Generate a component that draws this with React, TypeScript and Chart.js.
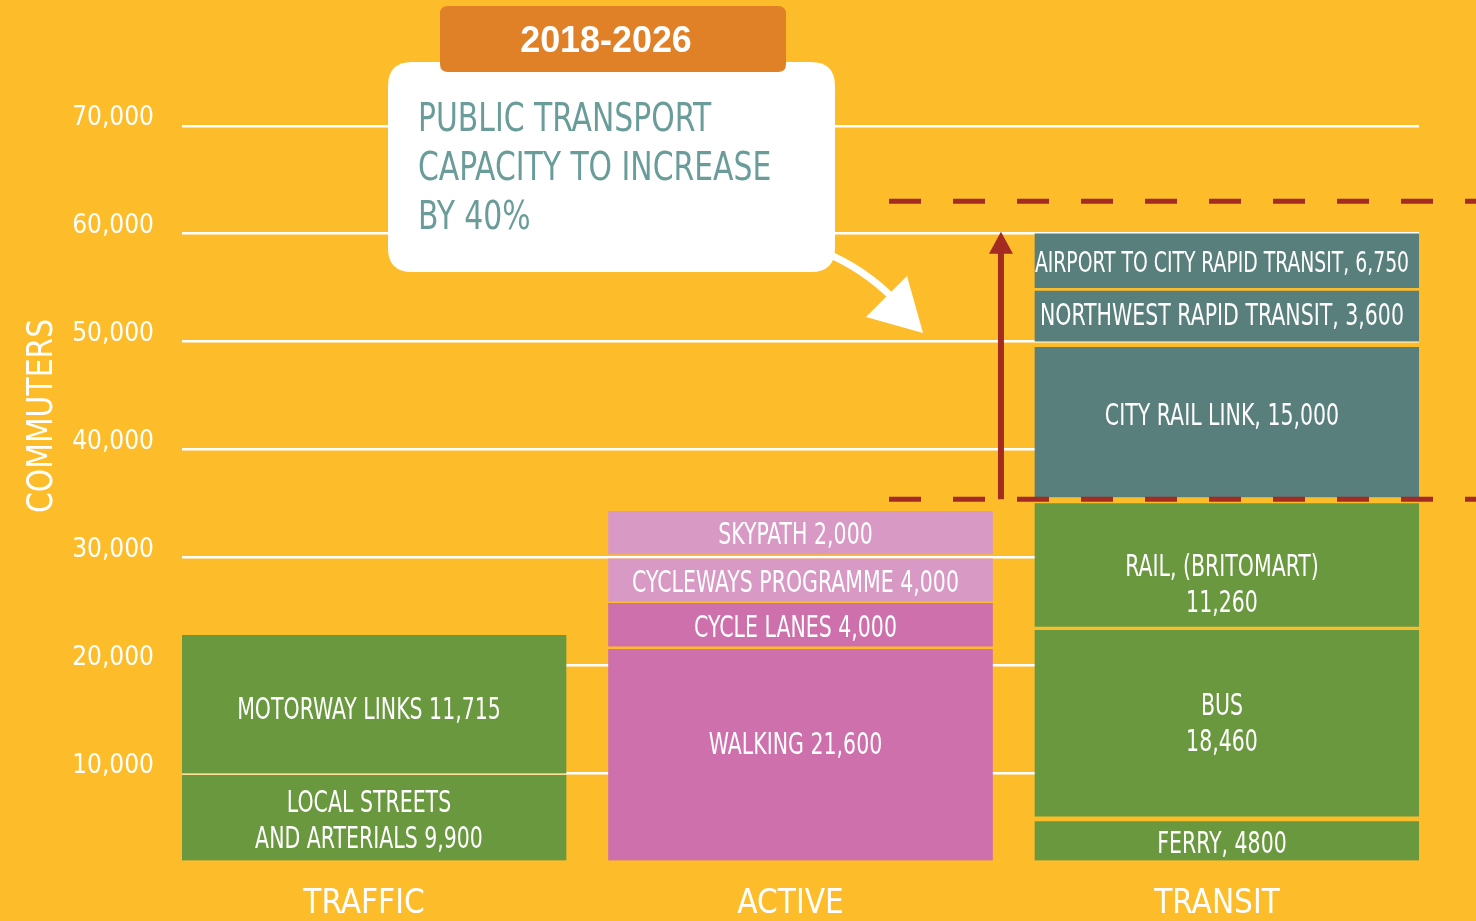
import React, { useEffect, useRef } from 'react';
import { Chart, registerables } from 'chart.js';

Chart.register(...registerables);

// ---------- data ----------
const categories = ['TRAFFIC', 'ACTIVE', 'TRANSIT'];
const yTickValues = [10000, 20000, 30000, 40000, 50000, 60000, 70000];
const AXIS_FLOOR = 1950;
const AXIS_TOP = 76000;

// Segments per category (bottom to top). Extents, in commuters.
const trafficLabels = [['LOCAL STREETS', 'AND ARTERIALS 9,900'], ['MOTORWAY LINKS 11,715']];
const trafficLow = [AXIS_FLOOR, 10050];
const trafficHigh = [9850, 22800];

const activeLabels = [['WALKING 21,600'], ['CYCLE LANES 4,000'], ['CYCLEWAYS PROGRAMME 4,000'], ['SKYPATH 2,000']];
const activeLow = [AXIS_FLOOR, 21800, 25980, 30350];
const activeHigh = [21500, 25770, 29900, 34300];

const transitLabels = [
  ['FERRY, 4800'],
  ['BUS', '18,460'],
  ['RAIL, (BRITOMART)', '11,260'],
  ['CITY RAIL LINK, 15,000'],
  ['NORTHWEST RAPID TRANSIT, 3,600'],
  ['AIRPORT TO CITY RAPID TRANSIT, 6,750'],
];
const transitLow = [AXIS_FLOOR, 6050, 23630, 35620, 50060, 55010];
const transitHigh = [5550, 23260, 35010, 49480, 54700, 59990];

// Capacity band today vs 2026
const capacityNow = 35400;
const capacityTarget = 63000;
const arrowTop = 60000;

const titleText = '2018-2026';
const calloutLines = ['PUBLIC TRANSPORT', 'CAPACITY TO INCREASE', 'BY 40%'];
const yAxisTitle = 'COMMUTERS';

// ---------- styles ----------
const BG = '#FDBD2B';
const GREEN = '#6A983F';
const PINK = '#CD70AB';
const LIGHT_PINK = '#D899C4';
const TEAL = '#597F7C';
const ORANGE = '#E08127';
const RED = '#A32B22';
const TEXT_TEAL = '#6A9C99';
const FONT = "'DejaVu Sans Condensed', 'Liberation Sans Narrow', 'Roboto Condensed', 'Liberation Sans', sans-serif";

const trafficColors = [GREEN, GREEN];
const activeColors = [PINK, PINK, LIGHT_PINK, LIGHT_PINK];
const transitColors = [GREEN, GREEN, GREEN, TEAL, TEAL, TEAL];

const labelNudge: Record<string, number> = {
  'WALKING 21,600': -13,
  'RAIL, (BRITOMART) 11,260': 17,
  'CITY RAIL LINK, 15,000': -9,
  'NORTHWEST RAPID TRANSIT, 3,600': -3,
  'BUS 18,460': -2,
  'MOTORWAY LINKS 11,715': 3,
};
const labelSize: Record<string, number> = { 'AIRPORT TO CITY RAPID TRANSIT, 6,750': 27.5 };

function drawText(ctx: CanvasRenderingContext2D, text: string, x: number, y: number, size: number, color: string, align: CanvasTextAlign, sx: number, weight = 'normal', family = FONT) {
  ctx.save();
  ctx.translate(x, y);
  ctx.scale(sx, 1);
  ctx.font = `${weight} ${size}px ${family}`;
  ctx.fillStyle = color;
  ctx.textAlign = align;
  ctx.textBaseline = 'middle';
  ctx.fillText(text, 0, 0);
  ctx.restore();
}

function roundRect(ctx: CanvasRenderingContext2D, x: number, y: number, w: number, h: number, r: number) {
  ctx.beginPath();
  ctx.moveTo(x + r, y);
  ctx.lineTo(x + w - r, y);
  ctx.quadraticCurveTo(x + w, y, x + w, y + r);
  ctx.lineTo(x + w, y + h - r);
  ctx.quadraticCurveTo(x + w, y + h, x + w - r, y + h);
  ctx.lineTo(x + r, y + h);
  ctx.quadraticCurveTo(x, y + h, x, y + h - r);
  ctx.lineTo(x, y + r);
  ctx.quadraticCurveTo(x, y, x + r, y);
  ctx.closePath();
}

const bgPlugin = {
  id: 'bg',
  beforeDraw(chart: any) {
    const ctx = chart.ctx;
    ctx.save();
    ctx.fillStyle = BG;
    ctx.fillRect(0, 0, chart.width, chart.height);
    ctx.restore();
  },
};

const segLabelPlugin = {
  id: 'segLabels',
  afterDatasetsDraw(chart: any) {
    const ctx = chart.ctx;
    chart.data.datasets.forEach((ds: any, i: number) => {
      const meta = chart.getDatasetMeta(i);
      const el = meta.data[0];
      if (!el) return;
      const { x, y, base } = el.getProps(['x', 'y', 'base'], true);
      const lines: string[] = ds.segLines;
      const key = lines.join(' ');
      const size = labelSize[key] || 30;
      const lh = 36;
      const cy = (y + base) / 2 + 4 + (labelNudge[key] || 0);
      lines.forEach((ln, k) => {
        drawText(ctx, ln, x - 5, cy + (k - (lines.length - 1) / 2) * lh, size, '#FFFFFF', 'center', 0.76);
      });
    });
  },
};

const annotationPlugin = {
  id: 'annotations',
  afterDraw(chart: any) {
    const ctx = chart.ctx;
    const xs = chart.scales.x;
    const ys = chart.scales.y;
    const yNow = ys.getPixelForValue(capacityNow);
    const yTarget = ys.getPixelForValue(capacityTarget);
    const yArrowTop = ys.getPixelForValue(arrowTop);
    const dashStart = xs.getPixelForValue(1.2075);
    const arrowX = xs.getPixelForValue(1.47);

    // dashed capacity lines
    ctx.save();
    ctx.strokeStyle = RED;
    ctx.lineWidth = 5;
    ctx.setLineDash([32, 32]);
    [yNow, yTarget].forEach((yy) => {
      ctx.beginPath();
      ctx.moveTo(dashStart, yy);
      ctx.lineTo(chart.width, yy);
      ctx.stroke();
    });
    ctx.restore();

    // red up arrow
    ctx.save();
    ctx.strokeStyle = RED;
    ctx.fillStyle = RED;
    ctx.lineWidth = 6;
    ctx.beginPath();
    ctx.moveTo(arrowX, yNow);
    ctx.lineTo(arrowX, yArrowTop + 18);
    ctx.stroke();
    ctx.beginPath();
    ctx.moveTo(arrowX, yArrowTop - 2);
    ctx.lineTo(arrowX - 12, yArrowTop + 20);
    ctx.lineTo(arrowX + 12, yArrowTop + 20);
    ctx.closePath();
    ctx.fill();
    ctx.restore();

    // white callout box
    ctx.save();
    ctx.fillStyle = '#FFFFFF';
    roundRect(ctx, 388, 62, 447, 210, 24);
    ctx.fill();
    // curved white arrow
    ctx.strokeStyle = '#FFFFFF';
    ctx.lineWidth = 7;
    ctx.beginPath();
    ctx.moveTo(826, 253);
    ctx.quadraticCurveTo(862, 268, 892, 297);
    ctx.stroke();
    ctx.beginPath();
    ctx.moveTo(866, 317);
    ctx.lineTo(907, 276);
    ctx.lineTo(923, 333);
    ctx.closePath();
    ctx.fill();
    ctx.restore();

    calloutLines.forEach((ln, k) => {
      drawText(ctx, ln, 418, 121 + k * 49, 39, TEXT_TEAL, 'left', 0.85);
    });

    // orange title box
    ctx.save();
    ctx.fillStyle = ORANGE;
    roundRect(ctx, 440, 6, 346, 66, 8);
    ctx.fill();
    ctx.restore();
    drawText(ctx, titleText, 606, 42, 37, '#FFFFFF', 'center', 0.97, 'bold', "'Liberation Sans', sans-serif");

    // y axis title
    ctx.save();
    ctx.translate(43, 416);
    ctx.rotate(-Math.PI / 2);
    drawText(ctx, yAxisTitle, 0, 0, 36, '#FFFFFF', 'center', 0.92);
    ctx.restore();
  },
};

export default function App() {
  const canvasRef = useRef<HTMLCanvasElement | null>(null);

  useEffect(() => {
    if (!canvasRef.current) return;
    const groups = [
      { cat: 0, labels: trafficLabels, low: trafficLow, high: trafficHigh, colors: trafficColors },
      { cat: 1, labels: activeLabels, low: activeLow, high: activeHigh, colors: activeColors },
      { cat: 2, labels: transitLabels, low: transitLow, high: transitHigh, colors: transitColors },
    ];
    const datasets: any[] = [];
    groups.forEach((g) => {
      g.labels.forEach((lab, i) => {
        datasets.push({
          label: lab.join(' '),
          segLines: lab,
          data: [{ x: g.cat, y: [g.low[i], g.high[i]] }],
          backgroundColor: g.colors[i],
          borderWidth: 0,
          grouped: false,
          barThickness: 384,
        });
      });
    });

    const chart = new Chart(canvasRef.current, {
      type: 'bar',
      data: { datasets },
      options: {
        animation: false,
        responsive: false,
        devicePixelRatio: 1,
        layout: { padding: { top: 61, right: 57, left: 0, bottom: 0 } },
        plugins: { legend: { display: false }, tooltip: { enabled: false } },
        scales: {
          x: {
            type: 'linear',
            offset: false,
            min: -0.4502,
            max: 2.4502,
            grid: { display: false },
            border: { display: false },
            afterBuildTicks: (scale: any) => {
              scale.ticks = categories.map((_, i) => ({ value: i }));
            },
            afterFit: (scale: any) => {
              scale.height = 60.5;
            },
            ticks: {
              color: '#FFFFFF',
              font: { family: FONT, size: 33 },
              padding: 16,
              labelOffset: -10,
              maxRotation: 0,
              autoSkip: false,
              callback: (v: any) => categories[v as number] ?? '',
            },
          },
          y: {
            type: 'linear',
            min: AXIS_FLOOR,
            max: AXIS_TOP,
            grid: { color: '#FFFFFF', lineWidth: 2.5, drawTicks: false },
            border: { display: false },
            afterBuildTicks: (scale: any) => {
              scale.ticks = yTickValues.map((v) => ({ value: v }));
            },
            afterFit: (scale: any) => {
              scale.width = 182;
            },
            ticks: {
              color: '#FFFFFF',
              font: { family: FONT, size: 26 },
              padding: 28,
              labelOffset: -7.5,
              callback: (v: any) => Number(v).toLocaleString('en-US'),
            },
          },
        },
      },
      plugins: [bgPlugin, segLabelPlugin, annotationPlugin],
    } as any);

    return () => chart.destroy();
  }, []);

  return (
    <div style={{ position: 'fixed', left: 0, top: 0, width: 1476, height: 921, background: BG }}>
      <canvas ref={canvasRef} width={1476} height={921} style={{ display: 'block' }} />
    </div>
  );
}
